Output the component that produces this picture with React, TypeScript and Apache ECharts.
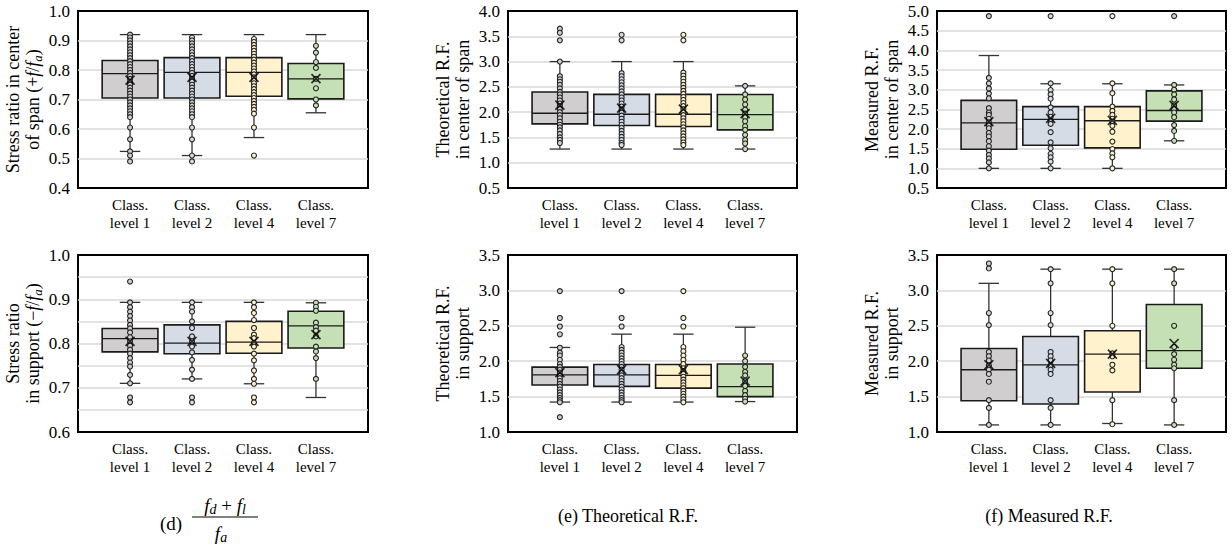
import React, { useEffect, useRef } from "react";
import * as echarts from "echarts";

const FONT = "'Liberation Serif', 'Times New Roman', serif";

const categories = ["Class.\nlevel 1", "Class.\nlevel 2", "Class.\nlevel 4", "Class.\nlevel 7"];
const boxFills = ["#d0cece", "#d6dce5", "#fff2cc", "#c5e0b4"];

// Box statistics: [lower whisker, Q1, median, Q3, upper whisker]
const spanRatioBox = [
  [0.524, 0.705, 0.788, 0.832, 0.92],
  [0.51, 0.705, 0.792, 0.842, 0.92],
  [0.571, 0.711, 0.792, 0.842, 0.92],
  [0.655, 0.702, 0.77, 0.822, 0.92],
];
const spanRatioMean = [0.766, 0.775, 0.775, 0.771];
const spanRatioPoints = [
  [0.92, 0.91, 0.9, 0.89, 0.88, 0.87, 0.86, 0.85, 0.84, 0.83, 0.82, 0.81, 0.8, 0.79, 0.78, 0.77, 0.76, 0.75, 0.74, 0.73, 0.72, 0.71, 0.7, 0.69, 0.68, 0.67, 0.66, 0.65, 0.64, 0.605, 0.565, 0.524, 0.51, 0.49],
  [0.91, 0.9, 0.89, 0.88, 0.87, 0.86, 0.85, 0.84, 0.83, 0.82, 0.81, 0.8, 0.79, 0.78, 0.77, 0.76, 0.75, 0.74, 0.73, 0.72, 0.71, 0.7, 0.69, 0.68, 0.67, 0.66, 0.65, 0.64, 0.605, 0.565, 0.51, 0.49],
  [0.905, 0.895, 0.885, 0.875, 0.865, 0.855, 0.845, 0.835, 0.825, 0.815, 0.805, 0.795, 0.785, 0.775, 0.765, 0.755, 0.745, 0.735, 0.725, 0.715, 0.705, 0.695, 0.685, 0.675, 0.665, 0.652, 0.605, 0.51],
  [0.882, 0.859, 0.827, 0.807, 0.77, 0.738, 0.7, 0.68],
];

const spanTheoBox = [
  [1.27, 1.768, 1.978, 2.398, 3.0],
  [1.27, 1.735, 1.958, 2.352, 3.0],
  [1.27, 1.715, 1.958, 2.352, 3.0],
  [1.27, 1.65, 1.95, 2.35, 2.52],
];
const spanTheoMean = [2.14, 2.08, 2.06, 1.97];
const spanTheoPoints = [
  [3.65, 3.57, 3.42, 3.0, 2.71, 2.65, 2.6, 2.54, 2.47, 2.4, 2.35, 2.29, 2.23, 2.17, 2.12, 2.06, 2.0, 1.94, 1.88, 1.81, 1.75, 1.7, 1.64, 1.57, 1.5, 1.45, 1.39],
  [3.53, 3.42, 2.77, 2.71, 2.65, 2.59, 2.53, 2.47, 2.41, 2.35, 2.29, 2.23, 2.17, 2.11, 2.05, 1.99, 1.93, 1.87, 1.81, 1.75, 1.69, 1.63, 1.57, 1.51, 1.45, 1.39, 1.35],
  [3.53, 3.42, 2.78, 2.72, 2.66, 2.6, 2.54, 2.48, 2.42, 2.36, 2.3, 2.24, 2.18, 2.12, 2.06, 2.0, 1.94, 1.88, 1.82, 1.76, 1.7, 1.64, 1.58, 1.52, 1.46, 1.4, 1.35],
  [2.52, 2.35, 2.25, 2.15, 2.05, 1.97, 1.9, 1.82, 1.72, 1.65, 1.55, 1.45, 1.38, 1.27],
];

const spanMeasBox = [
  [1.0, 1.487, 2.154, 2.728, 3.868],
  [1.0, 1.588, 2.247, 2.568, 3.15],
  [1.0, 1.52, 2.21, 2.568, 3.15],
  [1.7, 2.2, 2.47, 2.97, 3.12],
];
const spanMeasMean = [2.19, 2.27, 2.22, 2.6];
const spanMeasPoints = [
  [4.87, 3.3, 3.16, 3.03, 2.9, 2.78, 2.53, 2.42, 2.36, 2.26, 2.17, 2.09, 2.02, 1.9, 1.81, 1.69, 1.56, 1.45, 1.34, 1.25, 1.15, 1.0],
  [4.87, 3.16, 2.99, 2.88, 2.77, 2.55, 2.42, 2.31, 2.21, 2.13, 1.92, 1.66, 1.51, 1.37, 1.28, 1.17, 1.0],
  [4.87, 3.16, 2.91, 2.57, 2.46, 2.36, 2.26, 2.19, 2.08, 1.93, 1.68, 1.49, 1.38, 1.28, 1.0],
  [4.87, 3.12, 3.0, 2.88, 2.75, 2.6, 2.5, 2.42, 2.3, 2.1, 1.95, 1.7],
];

const supRatioBox = [
  [0.71, 0.781, 0.811, 0.834, 0.893],
  [0.72, 0.777, 0.801, 0.842, 0.893],
  [0.709, 0.778, 0.803, 0.85, 0.893],
  [0.678, 0.79, 0.84, 0.873, 0.892],
];
const supRatioMean = [0.805, 0.805, 0.805, 0.82];
const supRatioPoints = [
  [0.94, 0.893, 0.882, 0.872, 0.862, 0.852, 0.842, 0.834, 0.825, 0.814, 0.805, 0.795, 0.786, 0.777, 0.767, 0.757, 0.748, 0.729, 0.71, 0.678, 0.667],
  [0.893, 0.882, 0.872, 0.85, 0.835, 0.816, 0.805, 0.793, 0.78, 0.763, 0.741, 0.72, 0.678, 0.667],
  [0.893, 0.882, 0.869, 0.853, 0.835, 0.82, 0.812, 0.801, 0.793, 0.777, 0.762, 0.739, 0.72, 0.709, 0.678, 0.667],
  [0.892, 0.883, 0.874, 0.847, 0.837, 0.829, 0.816, 0.793, 0.782, 0.767, 0.72],
];

const supTheoBox = [
  [1.423, 1.663, 1.808, 1.916, 2.194],
  [1.423, 1.644, 1.808, 1.954, 2.382],
  [1.423, 1.62, 1.799, 1.954, 2.382],
  [1.43, 1.5, 1.64, 1.96, 2.48],
];
const supTheoMean = [1.84, 1.88, 1.88, 1.72];
const supTheoPoints = [
  [2.99, 2.61, 2.49, 2.38, 2.19, 2.12, 2.08, 2.02, 1.96, 1.92, 1.88, 1.84, 1.8, 1.76, 1.72, 1.68, 1.64, 1.6, 1.56, 1.52, 1.48, 1.45, 1.42, 1.21],
  [2.99, 2.61, 2.49, 2.2, 2.16, 2.12, 2.08, 2.04, 2.0, 1.96, 1.92, 1.88, 1.84, 1.8, 1.76, 1.72, 1.68, 1.64, 1.6, 1.56, 1.52, 1.48, 1.45, 1.42],
  [2.99, 2.61, 2.49, 2.2, 2.14, 2.08, 2.02, 1.96, 1.9, 1.86, 1.82, 1.78, 1.74, 1.7, 1.66, 1.62, 1.58, 1.54, 1.5, 1.46, 1.42],
  [2.08, 2.0, 1.92, 1.85, 1.8, 1.72, 1.65, 1.58, 1.52, 1.47, 1.43],
];

const supMeasBox = [
  [1.1, 1.442, 1.879, 2.18, 3.1],
  [1.1, 1.395, 1.949, 2.349, 3.3],
  [1.12, 1.564, 2.1, 2.43, 3.3],
  [1.1, 1.9, 2.15, 2.8, 3.3],
];
const supMeasMean = [1.95, 1.97, 2.1, 2.25];
const supMeasPoints = [
  [3.38, 3.31, 2.68, 2.51, 2.13, 2.07, 2.01, 1.94, 1.88, 1.82, 1.71, 1.45, 1.34, 1.1],
  [3.3, 3.1, 2.68, 2.51, 2.13, 2.07, 2.01, 1.94, 1.88, 1.82, 1.45, 1.34, 1.1],
  [3.3, 3.1, 2.5, 2.11, 2.07, 1.95, 1.87, 1.45, 1.11],
  [3.3, 3.1, 2.5, 2.2, 2.1, 2.02, 1.95, 1.9, 1.45, 1.1],
];

const fmt1 = (v: number) => v.toFixed(1);
const fmtTenth = (v: number) => {
  const r = Math.round(v * 100);
  return r % 10 === 0 ? (r / 100).toFixed(1) : "";
};

const panels = [
  { left: 78, top: 11, width: 290, min: 0.4, max: 1.0, interval: 0.1, fmt: fmt1, name: "Stress ratio in center\nof span (+{i|f}/{i|f}{s|a})", box: spanRatioBox, mean: spanRatioMean, points: spanRatioPoints },
  { left: 508, top: 11, width: 289, min: 0.5, max: 4.0, interval: 0.5, fmt: fmt1, name: "Theoretical R.F.\nin center of span", box: spanTheoBox, mean: spanTheoMean, points: spanTheoPoints },
  { left: 937, top: 11, width: 289, min: 0.5, max: 5.0, interval: 0.5, fmt: fmt1, name: "Measured R.F.\nin center of span", box: spanMeasBox, mean: spanMeasMean, points: spanMeasPoints },
  { left: 78, top: 255, width: 290, min: 0.6, max: 1.0, interval: 0.05, fmt: fmtTenth, name: "Stress ratio\nin support (\u2212{i|f}/{i|f}{s|a})", box: supRatioBox, mean: supRatioMean, points: supRatioPoints },
  { left: 508, top: 255, width: 289, min: 1.0, max: 3.5, interval: 0.5, fmt: fmt1, name: "Theoretical R.F.\nin support", box: supTheoBox, mean: supTheoMean, points: supTheoPoints },
  { left: 937, top: 255, width: 289, min: 1.0, max: 3.5, interval: 0.5, fmt: fmt1, name: "Measured R.F.\nin support", box: supMeasBox, mean: supMeasMean, points: supMeasPoints },
];

const renderBox = (params: any, api: any) => {
  const i = api.value(0);
  const cx = api.coord([i, api.value(3)])[0];
  const yLow = api.coord([i, api.value(1)])[1];
  const yQ1 = api.coord([i, api.value(2)])[1];
  const yMed = api.coord([i, api.value(3)])[1];
  const yQ3 = api.coord([i, api.value(4)])[1];
  const yHigh = api.coord([i, api.value(5)])[1];
  const hw = api.size([0.9, 0])[0] / 2;
  const hc = api.size([0.33, 0])[0] / 2;
  const ws = { stroke: "#333", lineWidth: 1.3 };
  return {
    type: "group",
    children: [
      { type: "line", shape: { x1: cx, y1: yHigh, x2: cx, y2: yQ3 }, style: ws },
      { type: "line", shape: { x1: cx, y1: yQ1, x2: cx, y2: yLow }, style: ws },
      { type: "line", shape: { x1: cx - hc, y1: yHigh, x2: cx + hc, y2: yHigh }, style: ws },
      { type: "line", shape: { x1: cx - hc, y1: yLow, x2: cx + hc, y2: yLow }, style: ws },
      { type: "rect", shape: { x: cx - hw, y: yQ3, width: hw * 2, height: yQ1 - yQ3 }, style: { fill: boxFills[i], stroke: "#1a1a1a", lineWidth: 1.6 } },
      { type: "line", shape: { x1: cx - hw, y1: yMed, x2: cx + hw, y2: yMed }, style: { stroke: "#1a1a1a", lineWidth: 1.3 } },
    ],
  };
};

function buildOption() {
  const grid: any[] = [];
  const xAxis: any[] = [];
  const yAxis: any[] = [];
  const series: any[] = [];
  panels.forEach((p, k) => {
    grid.push({ left: p.left, top: p.top, width: p.width, height: 177, show: true, borderColor: "#000", borderWidth: 2, backgroundColor: "transparent" });
    xAxis.push({
      gridIndex: k, type: "value", min: -0.84, max: 3.84,
      axisLine: { show: false }, axisTick: { show: false }, splitLine: { show: false },
      axisLabel: { customValues: [0, 1, 2, 3], formatter: (v: number) => categories[Math.round(v)], fontSize: 15, lineHeight: 18, color: "#000", fontFamily: FONT, margin: 8 },
    });
    yAxis.push({
      gridIndex: k, type: "value", min: p.min, max: p.max, interval: p.interval,
      axisLine: { show: false }, axisTick: { show: false },
      splitLine: { show: true, showMinLine: false, showMaxLine: false, lineStyle: { color: "#d9d9d9", width: 1.5 } },
      axisLabel: { formatter: p.fmt, fontSize: 17, color: "#000", fontFamily: FONT, margin: 8 },
      name: p.name, nameLocation: "middle", nameGap: 35, nameRotate: 90,
      nameTextStyle: {
        fontSize: 18, lineHeight: 20, color: "#000", fontFamily: FONT,
        rich: {
          i: { fontSize: 18, fontStyle: "italic", fontFamily: FONT, color: "#000" },
          s: { fontSize: 13, fontStyle: "italic", fontFamily: FONT, color: "#000", padding: [8, 0, 0, 0] },
        },
      },
    });
    series.push({ type: "custom", xAxisIndex: k, yAxisIndex: k, data: p.box.map((b, i) => [i, ...b]), encode: { x: 0, y: [1, 2, 3, 4, 5] }, renderItem: renderBox, z: 2 });
    series.push({
      type: "scatter", xAxisIndex: k, yAxisIndex: k,
      data: p.points.flatMap((arr, i) => arr.map((v) => [i, v])),
      symbol: "circle", symbolSize: 5,
      itemStyle: { color: (prm: any) => boxFills[prm.data[0]], borderColor: "#222", borderWidth: 1.1, opacity: 1 },
      z: 3,
    });
    series.push({
      type: "scatter", xAxisIndex: k, yAxisIndex: k,
      data: p.mean.map((m, i) => [i, m]),
      symbol: "path://M0,0L10,10M10,0L0,10", symbolSize: 9,
      itemStyle: { color: "none", borderColor: "#000", borderWidth: 1.7 },
      z: 4,
    });
  });

  const tStyle = { fontFamily: FONT, fill: "#000", align: "center", verticalAlign: "middle" };
  const graphic = [
    { type: "text", x: 171, y: 523, style: { ...tStyle, text: "(d)", fontSize: 19 } },
    {
      type: "text", x: 225, y: 505,
      style: {
        ...tStyle, text: "{i|f}{s|d} + {i|f}{s|l}", fontSize: 19,
        rich: { i: { fontSize: 19, fontStyle: "italic", fontFamily: FONT }, s: { fontSize: 14, fontStyle: "italic", fontFamily: FONT, padding: [9, 0, 0, 0] } },
      },
    },
    { type: "line", shape: { x1: 192, y1: 517, x2: 258, y2: 517 }, style: { stroke: "#000", lineWidth: 1 } },
    {
      type: "text", x: 221, y: 533,
      style: {
        ...tStyle, text: "{i|f}{s|a}", fontSize: 19,
        rich: { i: { fontSize: 19, fontStyle: "italic", fontFamily: FONT }, s: { fontSize: 14, fontStyle: "italic", fontFamily: FONT, padding: [9, 0, 0, 0] } },
      },
    },
    { type: "text", x: 628, y: 516, style: { ...tStyle, text: "(e) Theoretical R.F.", fontSize: 18 } },
    { type: "text", x: 1049, y: 516, style: { ...tStyle, text: "(f) Measured R.F.", fontSize: 18 } },
  ];

  return { animation: false, backgroundColor: "#fff", grid, xAxis, yAxis, series, graphic };
}

export default function App() {
  const ref = useRef<HTMLDivElement>(null);
  useEffect(() => {
    if (!ref.current) return;
    const chart = echarts.init(ref.current, null, { renderer: "svg" });
    chart.setOption(buildOption() as any);
    return () => chart.dispose();
  }, []);
  return <div ref={ref} style={{ position: "absolute", left: 0, top: 0, width: 1232, height: 552 }} />;
}
